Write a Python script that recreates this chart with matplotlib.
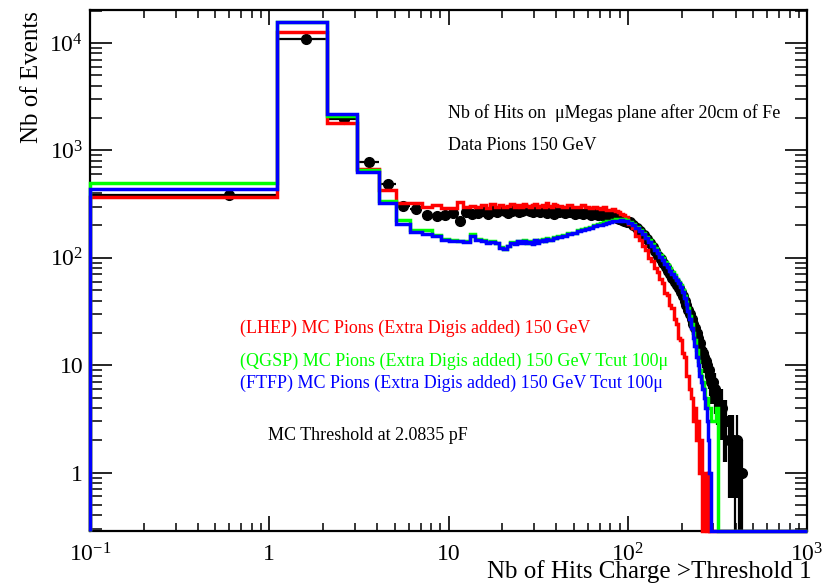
import numpy as np
import matplotlib
matplotlib.use("Agg")
import matplotlib.pyplot as plt
from matplotlib.ticker import FixedLocator, FixedFormatter, LogLocator, NullFormatter

plt.rcParams['font.family'] = ['Liberation Serif', 'DejaVu Serif']
plt.rcParams['mathtext.fontset'] = 'custom'
plt.rcParams['mathtext.rm'] = 'Liberation Serif'
plt.rcParams['mathtext.it'] = 'Liberation Serif:italic'

# bin edges: unit bins at low multiplicity, merged bins further out
edges = np.concatenate([np.arange(0, 40, 1), np.arange(40, 100, 3),
                        np.arange(100, 300, 5), np.arange(300, 450, 10),
                        [450, 1000]]) + 0.1

# Data, pions 150 GeV
data_counts = [
    388, 10900, 1980, 776, 484, 306, 283, 251, 246, 251,
    262, 218, 266, 255, 262, 270, 258, 272, 266, 278,
    270, 262, 275, 280, 268, 272, 284, 276, 270, 268,
    280, 274, 265, 278, 270, 262, 272, 266, 258, 268,
    266, 262, 268, 258, 262, 256, 260, 252, 256, 248,
    250, 244, 246, 240, 238, 234, 232, 226, 222, 216,
    214, 202, 190, 176, 163, 150, 138, 126, 115, 105,
    97, 89, 82, 76, 70, 65, 60, 56, 52, 48,
    44, 40, 36, 33, 30, 27, 24, 22, 20, 18,
    16, 14, 13, 12, 11, 10, 9, 8, 7, 7,
    6, 5, 4, 4, 3, 3, 2, 2, 2, 1, 2, 1, 1, 1, 0,
    0]

# (LHEP) MC
lhep_counts = [
    369, 12680, 1790, 668, 426, 326, 322, 300, 310, 292,
    288, 330, 300, 305, 296, 310, 290, 318, 300, 312,
    296, 305, 315, 298, 308, 300, 320, 304, 296, 310,
    318, 300, 306, 312, 298, 322, 305, 300, 314, 308,
    305, 298, 312, 300, 294, 308, 298, 290, 300, 292,
    285, 296, 280, 276, 286, 272, 266, 258, 252, 238,
    205, 188, 160, 148, 128, 118, 100, 94, 80, 74,
    63, 58, 47, 45, 36, 34, 27, 24, 18, 17,
    13, 12, 8, 8, 6, 5, 3, 4, 2, 3,
    1, 2, 0, 1, 1, 0, 1, 0, 0, 0,
    0, 0, 0, 0, 0, 0, 0, 0, 0, 0, 0, 0, 0, 0, 0,
    0]

# (QGSP) MC
qgsp_counts = [
    495, 15600, 2096, 658, 339, 225, 182, 180, 163, 150,
    146, 144, 142, 168, 150, 146, 140, 143, 138, 126,
    122, 130, 140, 136, 144, 140, 146, 138, 142, 136,
    148, 140, 146, 150, 144, 152, 148, 150, 156, 154,
    158, 162, 170, 172, 180, 184, 190, 194, 200, 206,
    210, 214, 218, 222, 226, 228, 230, 232, 230, 226,
    216, 206, 194, 182, 170, 157, 145, 133, 123, 114,
    106, 99, 92, 86, 80, 74, 69, 64, 60, 56,
    50, 44, 39, 34, 29, 24, 20, 17, 14, 11,
    9, 8, 7, 6, 5, 5, 4, 4, 3, 3,
    3, 4, 0, 0, 0, 0, 0, 0, 0, 0, 0, 0, 0, 0, 0,
    0]

# (FTFP) MC
ftfp_counts = [
    438, 15700, 2188, 627, 326, 207, 173, 167, 160, 146,
    144, 142, 140, 160, 148, 142, 138, 140, 136, 124,
    120, 128, 138, 134, 142, 138, 143, 136, 140, 134,
    146, 138, 144, 148, 142, 150, 146, 148, 154, 152,
    156, 160, 166, 170, 176, 180, 186, 190, 196, 200,
    204, 208, 212, 214, 218, 220, 222, 224, 222, 218,
    212, 202, 190, 178, 165, 152, 140, 128, 118, 110,
    102, 95, 88, 82, 76, 71, 66, 62, 58, 54,
    48, 42, 37, 32, 27, 22, 18, 15, 12, 10,
    8, 7, 6, 5, 4, 3, 2, 1, 0, 0,
    0, 0, 0, 0, 0, 0, 0, 0, 0, 0, 0, 0, 0, 0, 0,
    0]

x_ticks = [0.1, 1, 10, 100, 1000]
x_ticklabels = ['$10^{-1}$', '1', '10', '$10^{2}$', '$10^{3}$']
y_ticks = [1, 10, 100, 1000, 10000]
y_ticklabels = ['1', '10', '$10^{2}$', '$10^{3}$', '$10^{4}$']

YMIN, YMAX = 0.286, 2.05e4

fig = plt.figure(figsize=(8.26, 5.85), dpi=100)
ax = fig.add_axes([90 / 826, 54 / 585, 717 / 826, 521.5 / 585])
ax.set_xscale('log')
ax.set_yscale('log')
ax.set_xlim(0.1, 1000)
ax.set_ylim(YMIN, YMAX)

# data points with sqrt(N) errors, x error = half bin width
centers = 0.5 * (edges[:-1] + edges[1:])
half = 0.5 * np.diff(edges)
d = np.array(data_counts, dtype=float)
keep = d > 0
err = np.sqrt(d[keep])
err_lo = np.minimum(err, d[keep] - 1e-3)
ax.errorbar(centers[keep], d[keep], xerr=half[keep], yerr=[err_lo, err],
            fmt='o', color='black', ms=7, elinewidth=1.6, capsize=0, zorder=2)

# MC histograms, empty bins sit on the frame
for counts, col, z in [(lhep_counts, '#ff0000', 3), (qgsp_counts, '#00ff00', 4),
                       (ftfp_counts, '#0000ff', 5)]:
    v = np.array(counts, dtype=float)
    v = np.where(v > 0, v, YMIN)
    ax.stairs(v, edges, baseline=YMIN, color=col, lw=2.5, zorder=z, clip_on=False)

ax.xaxis.set_major_locator(FixedLocator(x_ticks))
ax.xaxis.set_major_formatter(FixedFormatter(x_ticklabels))
ax.xaxis.set_minor_locator(LogLocator(base=10, subs=np.arange(2, 10), numticks=20))
ax.xaxis.set_minor_formatter(NullFormatter())
ax.yaxis.set_major_locator(FixedLocator(y_ticks))
ax.yaxis.set_major_formatter(FixedFormatter(y_ticklabels))
ax.yaxis.set_minor_locator(LogLocator(base=10, subs=np.arange(2, 10), numticks=20))
ax.yaxis.set_minor_formatter(NullFormatter())

ax.tick_params(axis='both', which='both', direction='in', top=True, right=True,
               labelsize=17, color='black')
ax.tick_params(axis='x', which='major', length=11, width=1.2, pad=9)
ax.tick_params(axis='x', which='minor', length=6, width=1.1)
ax.tick_params(axis='y', which='major', length=16, width=1.2, pad=5)
ax.tick_params(axis='y', which='minor', length=8.5, width=1.1)
for s in ax.spines.values():
    s.set_linewidth(1.6)

fig.text(32 / 826, 1 - 11 / 585, 'Nb of Events', rotation=90, ha='center', va='top',
         fontsize=18)
fig.text(812 / 826, 1 - 578 / 585, 'Nb of Hits Charge >Threshold 1', ha='right',
         va='baseline', fontsize=18)

fig.text(448 / 826, 1 - 113 / 585, 'Nb of Hits on  μMegas plane after 20cm of Fe',
         ha='left', va='center', fontsize=13)
fig.text(448 / 826, 1 - 145 / 585, 'Data Pions 150 GeV', ha='left', va='center',
         fontsize=13)
fig.text(240 / 826, 1 - 328 / 585, '(LHEP) MC Pions (Extra Digis added) 150 GeV',
         color='#ff0000', ha='left', va='center', fontsize=13)
fig.text(240 / 826, 1 - 361 / 585,
         '(QGSP) MC Pions (Extra Digis added) 150 GeV Tcut 100μ',
         color='#00ff00', ha='left', va='center', fontsize=13)
fig.text(240 / 826, 1 - 383 / 585,
         '(FTFP) MC Pions (Extra Digis added) 150 GeV Tcut 100μ',
         color='#0000ff', ha='left', va='center', fontsize=13)
fig.text(268 / 826, 1 - 435 / 585, 'MC Threshold at 2.0835 pF', ha='left',
         va='center', fontsize=13)

fig.savefig('out.png', dpi=100)
